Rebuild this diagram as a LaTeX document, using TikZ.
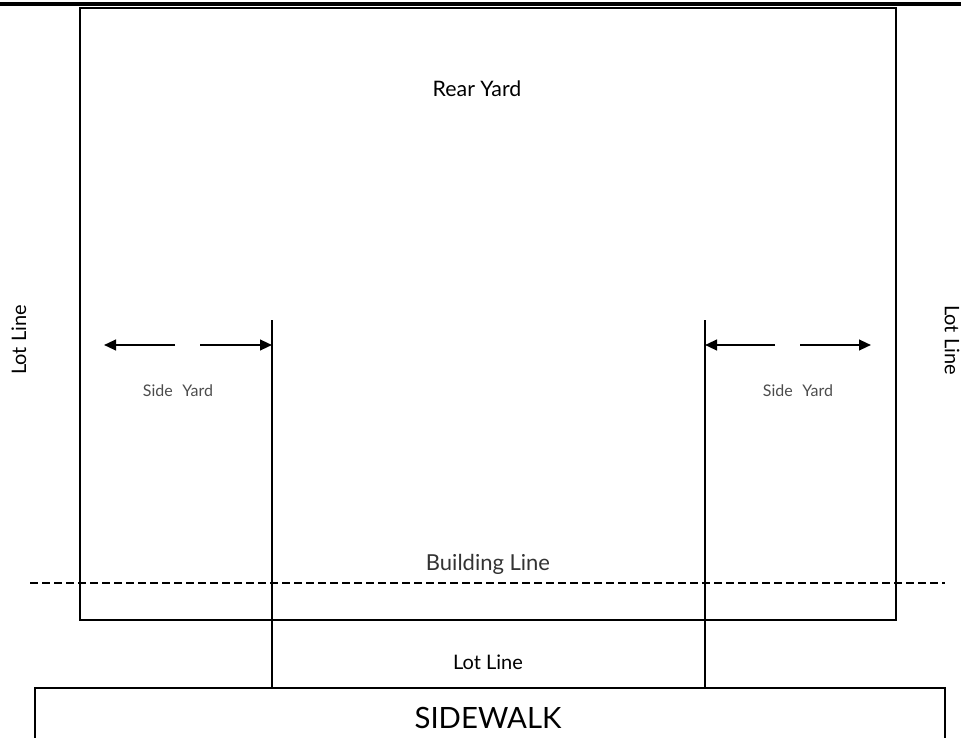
\documentclass[tikz,border=0pt]{standalone}
\usepackage{fontspec}
\setmainfont{Lato}
\usetikzlibrary{arrows.meta}
\begin{document}
\begin{tikzpicture}[x=0.75pt,y=-0.75pt,
  lbl/.style={inner sep=0pt,anchor=center},
  darr/.style={line width=1.6pt,-{Triangle[length=9pt,width=8pt]}},
  thinline/.style={line width=1.1pt}]
\useasboundingbox (0,0) rectangle (961,738);
% top line
\draw[line width=2.4pt] (0,4) -- (961,4);
% lot rectangle
\node[draw,line width=1.2pt,minimum width=816*0.75pt,minimum height=612*0.75pt,inner sep=0pt] (lot) at (488,314) {};
% building lines
\coordinate (bl1t) at (272,320);
\coordinate (bl1b) at (272,688);
\coordinate (bl2t) at (705,320);
\coordinate (bl2b) at (705,688);
\draw[thinline] (bl1t) -- (bl1b);
\draw[thinline] (bl2t) -- (bl2b);
% dashed building line
\coordinate (dl) at (30,583);
\coordinate (dr) at (945,583);
\draw[line width=1.1pt,dash pattern=on 6pt off 3pt] (dl) -- (dr);
% sidewalk
\draw[line width=1.1pt] (35,745) -- (35,688) -- (945,688) -- (945,745);
% arrows
\coordinate (a1) at (175,345); \coordinate (a1e) at (104,345);
\coordinate (a2) at (200,345); \coordinate (a2e) at (272,345);
\coordinate (a3) at (775,345); \coordinate (a3e) at (705,345);
\coordinate (a4) at (800,345); \coordinate (a4e) at (871,345);
\draw[darr] (a1) -- (a1e);
\draw[darr] (a2) -- (a2e);
\draw[darr] (a3) -- (a3e);
\draw[darr] (a4) -- (a4e);
% texts
\node[lbl] (rear) at (477,89) {\fontsize{16}{18}\selectfont Rear Yard};
\node[lbl,text=black!70] (sy1) at (178,391) {\fontsize{12}{14}\selectfont Side\hspace{0.6em}Yard};
\node[lbl,text=black!70] (sy2) at (798,391) {\fontsize{12}{14}\selectfont Side\hspace{0.6em}Yard};
\node[lbl,rotate=90] (ll1) at (19,340) {\fontsize{15}{17}\selectfont Lot Line};
\node[lbl,rotate=-90] (ll2) at (952,340) {\fontsize{15}{17}\selectfont Lot Line};
\node[lbl,text=black!80] (bline) at (488,564) {\fontsize{16.5}{18}\selectfont Building Line};
\node[lbl] (ll3) at (488,662) {\fontsize{15}{17}\selectfont Lot Line};
\node[lbl] (sw) at (488,718) {\fontsize{22}{24}\selectfont SIDEWALK};
\end{tikzpicture}
\end{document}
